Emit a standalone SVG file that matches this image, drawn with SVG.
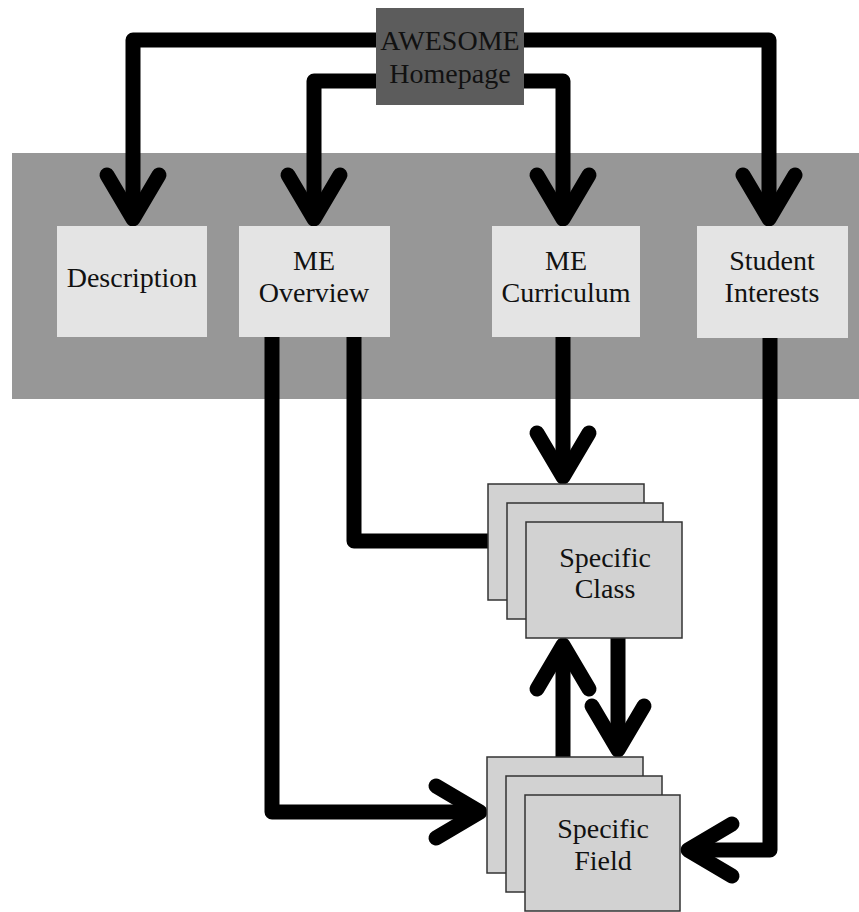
<svg xmlns="http://www.w3.org/2000/svg" width="859" height="912" viewBox="0 0 859 912">
<style>
.conn{fill:none;stroke:#000;stroke-width:15;stroke-linejoin:round;stroke-linecap:butt}
.node{fill:#e4e4e4}
.stack{fill:#d2d2d2;stroke:#333;stroke-width:1.5}
.lbl{font-family:"Liberation Serif","Times New Roman",serif;font-size:28px;fill:#111;text-anchor:middle}
</style>
<defs>
<marker id="arr" markerUnits="userSpaceOnUse" markerWidth="80" markerHeight="80" viewBox="-60 -40 80 80" refX="0" refY="0" orient="auto" overflow="visible">
<path d="M-44,-26 L0,0 L-44,26" fill="none" stroke="#000" stroke-width="15" stroke-linecap="round" stroke-linejoin="round"/>
</marker>
</defs>
<rect id="band" x="12" y="153" width="847" height="246" fill="#979797"/>
<g id="connectors">
<path class="conn" d="M380,40 H133 V219" marker-end="url(#arr)"/>
<path class="conn" d="M520,40 H769 V219" marker-end="url(#arr)"/>
<path class="conn" d="M380,81 H314 V219" marker-end="url(#arr)"/>
<path class="conn" d="M520,81 H563 V219" marker-end="url(#arr)"/>
<path class="conn" d="M272,337 V812 H480" marker-end="url(#arr)"/>
<path class="conn" d="M354,337 V541 H489"/>
<path class="conn" d="M563,337 V477" marker-end="url(#arr)"/>
<path class="conn" d="M563,757 V645" marker-end="url(#arr)"/>
<path class="conn" d="M618,638 V750" marker-end="url(#arr)"/>
<path class="conn" d="M770,338 V850 H688" marker-end="url(#arr)"/>
</g>
<g id="homepage">
<rect x="376" y="8" width="148" height="97" fill="#5c5c5c"/>
<text class="lbl" x="450" y="50">AWESOME</text>
<text class="lbl" x="450" y="83">Homepage</text>
</g>
<g id="description">
<rect class="node" x="57" y="226" width="150" height="111"/>
<text class="lbl" x="132" y="287">Description</text>
</g>
<g id="me-overview">
<rect class="node" x="239" y="226" width="151" height="111"/>
<text class="lbl" x="314" y="270">ME</text>
<text class="lbl" x="314" y="302">Overview</text>
</g>
<g id="me-curriculum">
<rect class="node" x="492" y="226" width="148" height="111"/>
<text class="lbl" x="566" y="270">ME</text>
<text class="lbl" x="566" y="302">Curriculum</text>
</g>
<g id="student-interests">
<rect class="node" x="697" y="226" width="151" height="112"/>
<text class="lbl" x="772" y="270">Student</text>
<text class="lbl" x="772" y="302">Interests</text>
</g>
<g id="specific-class">
<rect class="stack" x="488" y="484" width="156" height="116"/>
<rect class="stack" x="507" y="503" width="156" height="116"/>
<rect class="stack" x="526" y="522" width="156" height="116"/>
<text class="lbl" x="605" y="567">Specific</text>
<text class="lbl" x="605" y="598">Class</text>
</g>
<g id="specific-field">
<rect class="stack" x="487" y="757" width="156" height="116"/>
<rect class="stack" x="506" y="776" width="156" height="116"/>
<rect class="stack" x="525" y="795" width="155" height="116"/>
<text class="lbl" x="603" y="838">Specific</text>
<text class="lbl" x="603" y="870">Field</text>
</g>
</svg>
